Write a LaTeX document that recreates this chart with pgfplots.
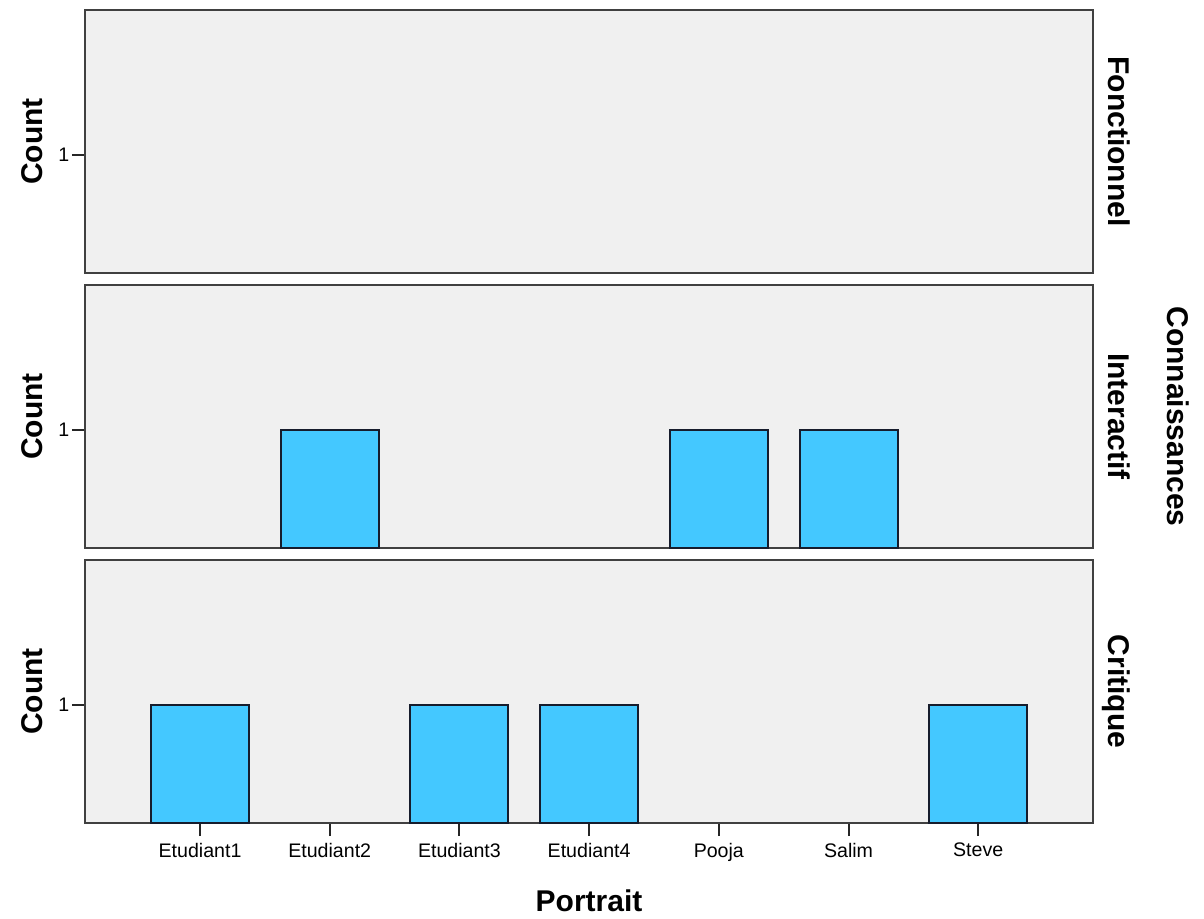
\documentclass[border=0pt]{standalone}
\usepackage{fontspec}
\setmainfont{Liberation Sans}
\setsansfont{Liberation Sans}
\usepackage{pgfplots}
\pgfplotsset{compat=1.18}
\definecolor{panelbg}{RGB}{240,240,240}
\definecolor{barblue}{RGB}{68,200,255}
\definecolor{bardark}{RGB}{22,28,44}
\definecolor{frame}{RGB}{64,64,64}
\tikzset{facet/.style={font=\fontsize{15}{17}\selectfont\bfseries, rotate=-90, anchor=base}}
\pgfplotsset{
  panel/.style={
    scale only axis,
    width=504pt, height=131.5pt,
    anchor=north west,
    xmin=-0.887, xmax=6.885,
    ymin=0, ymax=2.22,
    ytick={1},
    axis background/.style={fill=panelbg},
    axis line style={frame, line width=1.1pt},
    every tick/.style={black!85, line width=1pt},
    major tick length=6.5pt,
    tick align=outside,
    xtick pos=bottom, ytick pos=left,
    /pgf/number format/assume math mode=true,
    tick label style={font=\fontsize{9.8}{11}\selectfont},
    yticklabel style={inner sep=1.2pt},
    every axis y label/.style={at={(axis description cs:-0.0417,0.5)}, rotate=90, anchor=base,
      font=\fontsize{15}{17}\selectfont\bfseries},
    ylabel={Count},
    clip=false,
  },
  bars/.style={ybar, bar width=0.756, fill=barblue, draw=bardark, line width=1pt},
}
\begin{document}
\begin{tikzpicture}
\useasboundingbox (0,0) rectangle (602pt,-459pt);
% Top panel: Fonctionnel (no counts)
\begin{axis}[panel, at={(42.5pt,-5pt)}, xtick=\empty]
  \node[facet] at (axis description cs:1.01488,0.5) {Fonctionnel};
\end{axis}
% Middle panel: Interactif
\begin{axis}[panel, at={(42.5pt,-142.5pt)}, xtick=\empty]
  \addplot[bars] coordinates {(1,1) (4,1) (5,1)};
  \node[facet] at (axis description cs:1.01488,0.5) {Interactif};
  \node[facet] at (axis description cs:1.0734,0.5) {Connaissances};
\end{axis}
% Bottom panel: Critique
\begin{axis}[panel, at={(42.5pt,-280pt)},
    xtick={0,1,2,3,4,5,6},
    xticklabels={Etudiant1,Etudiant2,Etudiant3,Etudiant4,Pooja,Salim,Steve},
    every axis x label/.style={at={(axis description cs:0.5,-0.338)}, anchor=base,
      font=\fontsize{15}{17}\selectfont\bfseries},
    xlabel={Portrait}]
  \addplot[bars] coordinates {(0,1) (2,1) (3,1) (6,1)};
  \node[facet] at (axis description cs:1.01488,0.5) {Critique};
\end{axis}
\end{tikzpicture}
\end{document}
